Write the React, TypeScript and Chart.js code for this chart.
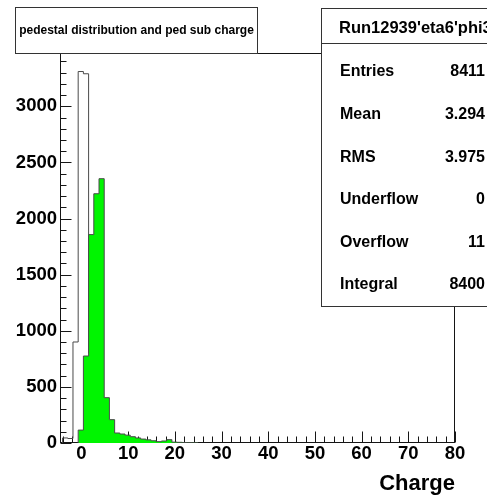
import React, { useEffect, useRef } from "react";
import { Chart, registerables } from "chart.js";

Chart.register(...registerables);

// Histogram binning (shared by both histograms)
const BIN_FIRST_EDGE = -4.05;
const BIN_WIDTH = 1.115;

// Raw pedestal distribution (outline only)
const PEDESTAL_COUNTS = [45, 40, 900, 3310, 3290, 800];
// Pedestal-subtracted charge (filled green)
const CHARGE_COUNTS = [
  0, 0, 0, 115, 775, 1857, 2221, 2355, 404, 208, 89, 80, 70, 56, 45, 35, 28, 20,
  12, 18, 30, 8, 6, 4, 3, 2,
];

// Axis ranges and tick labels
const X_MIN = -4.6;
const X_MAX = 80;
const Y_MIN = 0;
const Y_MAX = 3475;
const X_TICKS = [0, 10, 20, 30, 40, 50, 60, 70, 80];
const Y_TICKS = [0, 500, 1000, 1500, 2000, 2500, 3000];
const X_MINOR_STEP = 2;
const Y_MINOR_STEP = 100;

// Texts
const TITLE = "pedestal distribution and ped sub charge";
const X_TITLE = "Charge";
const STATS_HEADER = "Run12939'eta6'phi3";
const STATS_LABELS = ["Entries", "Mean", "RMS", "Underflow", "Overflow", "Integral"];
const STATS_VALUES = ["8411", "3.294", "3.975", "0", "11", "8400"];

const FONT = "'Liberation Sans', Arial, Helvetica, sans-serif";
const LINE_COLOR = "#151515";
const HIST_LINE = "#4a4a4a";
const GREEN = "rgb(0, 245, 0)";

// Build a step outline: one point at each bin's lower edge, closed to zero at both ends
function histPoints(counts: number[]) {
  let first = 0;
  while (first < counts.length && counts[first] === 0) first++;
  let last = counts.length - 1;
  while (last > first && counts[last] === 0) last--;
  const pts: { x: number; y: number }[] = [];
  const edge = (i: number) => BIN_FIRST_EDGE + i * BIN_WIDTH;
  pts.push({ x: edge(first), y: 0 });
  for (let i = first; i <= last; i++) pts.push({ x: edge(i), y: counts[i] });
  pts.push({ x: edge(last + 1), y: 0 });
  return pts;
}

// Frame and inward-pointing ticks, drawn under the histograms
const framePlugin = {
  id: "rootFrame",
  beforeDatasetsDraw(chart: any) {
    const { ctx, chartArea, scales } = chart;
    const { left, right, top, bottom } = chartArea;
    const xs = scales.x;
    const ys = scales.y;
    ctx.save();
    ctx.strokeStyle = LINE_COLOR;
    ctx.lineWidth = 1;
    const L = Math.round(left) + 0.5;
    const R = Math.round(right) - 0.5;
    const T = Math.round(top) + 0.5;
    const B = Math.round(bottom) - 0.5;
    ctx.strokeRect(L, T, R - L, B - T);

    ctx.beginPath();
    for (let v = Y_MIN; v <= Y_MAX; v += Y_MINOR_STEP) {
      const y = Math.round(ys.getPixelForValue(v)) + 0.5;
      const len = v % 500 === 0 ? 11 : 6;
      ctx.moveTo(L, y);
      ctx.lineTo(L + len, y);
    }
    const startX = Math.ceil(X_MIN / X_MINOR_STEP) * X_MINOR_STEP;
    for (let v = startX; v <= X_MAX; v += X_MINOR_STEP) {
      const x = Math.round(xs.getPixelForValue(v)) + 0.5;
      const len = v % 10 === 0 ? 11 : 6;
      ctx.moveTo(x, B);
      ctx.lineTo(x, B - len);
    }
    ctx.stroke();
    ctx.restore();
  },
  afterDraw(chart: any) {
    const { ctx } = chart;
    ctx.save();
    ctx.strokeStyle = "#333";
    ctx.lineWidth = 1;

    // Title box
    ctx.fillStyle = "#fff";
    ctx.fillRect(15.5, 7.5, 242, 46);
    ctx.strokeRect(15.5, 7.5, 242, 46);
    ctx.fillStyle = "#000";
    ctx.font = `bold 12px ${FONT}`;
    ctx.textAlign = "center";
    ctx.textBaseline = "middle";
    ctx.fillText(TITLE, 136.5, 31);

    // Statistics box
    ctx.fillStyle = "#fff";
    ctx.fillRect(321.5, 8.5, 200, 298);
    ctx.strokeRect(321.5, 8.5, 200, 298);
    ctx.beginPath();
    ctx.moveTo(321.5, 43.5);
    ctx.lineTo(487, 43.5);
    ctx.stroke();
    ctx.fillStyle = "#000";
    ctx.font = `bold 16.5px ${FONT}`;
    ctx.textAlign = "left";
    ctx.fillText(STATS_HEADER, 339, 28);
    ctx.font = `bold 16px ${FONT}`;
    STATS_LABELS.forEach((label, i) => {
      const y = 72 + i * 42.6;
      ctx.textAlign = "left";
      ctx.fillText(label, 340, y);
      ctx.textAlign = "right";
      ctx.fillText(STATS_VALUES[i], 485, y);
    });
    ctx.restore();
  },
};

export default function App() {
  const canvasRef = useRef<HTMLCanvasElement | null>(null);

  useEffect(() => {
    document.body.style.margin = "0";
    const canvas = canvasRef.current;
    if (!canvas) return;

    const chart = new Chart(canvas, {
      type: "line",
      data: {
        datasets: [
          {
            label: "ped sub charge",
            data: histPoints(CHARGE_COUNTS),
            stepped: "before",
            borderColor: HIST_LINE,
            borderWidth: 1,
            backgroundColor: GREEN,
            fill: "origin",
            pointRadius: 0,
            tension: 0,
            order: 0,
          },
          {
            label: "pedestal",
            data: histPoints(PEDESTAL_COUNTS),
            stepped: "before",
            borderColor: HIST_LINE,
            borderWidth: 1,
            backgroundColor: "rgba(0,0,0,0)",
            fill: false,
            pointRadius: 0,
            tension: 0,
            order: 1,
          },
        ],
      },
      options: {
        animation: false,
        responsive: false,
        devicePixelRatio: 1,
        events: [],
        layout: { padding: { top: 53, right: 32, left: 0, bottom: 0 } },
        plugins: {
          legend: { display: false },
          tooltip: { enabled: false },
        },
        scales: {
          x: {
            type: "linear",
            min: X_MIN,
            max: X_MAX,
            afterBuildTicks: (s: any) => {
              s.ticks = X_TICKS.map((v) => ({ value: v }));
            },
            afterFit: (s: any) => {
              s.height = 55;
            },
            grid: { display: false, drawTicks: false },
            border: { display: false },
            ticks: {
              autoSkip: false,
              maxRotation: 0,
              padding: 2,
              color: "#000",
              font: { family: FONT, size: 18.5, weight: "bold", lineHeight: 1 },
              callback: (v: any) => String(v),
            },
            title: {
              display: true,
              text: X_TITLE,
              align: "end",
              color: "#000",
              font: { family: FONT, size: 22, weight: "bold" },
              padding: { top: 0, bottom: 1 },
            },
          },
          y: {
            type: "linear",
            min: Y_MIN,
            max: Y_MAX,
            afterBuildTicks: (s: any) => {
              s.ticks = Y_TICKS.map((v) => ({ value: v }));
            },
            afterFit: (s: any) => {
              s.width = 60;
            },
            grid: { display: false, drawTicks: false },
            border: { display: false },
            ticks: {
              autoSkip: false,
              padding: 3,
              color: "#000",
              font: { family: FONT, size: 18.5, weight: "bold" },
              callback: (v: any) => String(v),
            },
          },
        },
      },
      plugins: [framePlugin],
    });

    return () => chart.destroy();
  }, []);

  return (
    <div style={{ width: 487, height: 498, background: "#fff" }}>
      <canvas ref={canvasRef} width={487} height={498} />
    </div>
  );
}
